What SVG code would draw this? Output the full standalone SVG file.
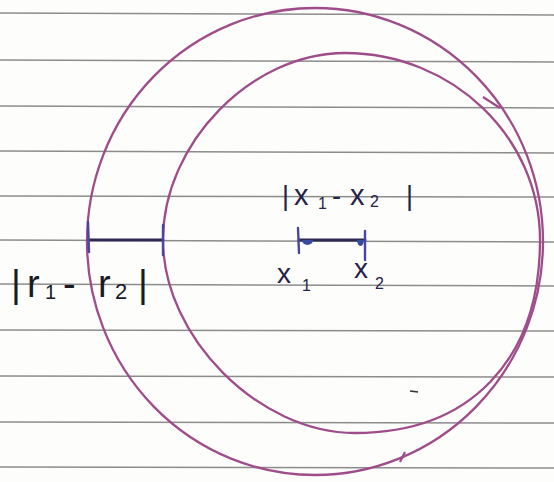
<svg xmlns="http://www.w3.org/2000/svg" width="554" height="482" viewBox="0 0 554 482">
<style>
.rule{stroke:#8c8c8c;stroke-width:1.5;fill:none}
.circ{stroke:#9e4c8a;stroke-width:2.3;fill:none}
.seg{stroke:#2e2a55;stroke-width:3;fill:none;stroke-linecap:round}
.tick{stroke:#4a45a0;stroke-width:2.4;fill:none;stroke-linecap:round}
.lbl{font-family:"Liberation Sans","DejaVu Sans",sans-serif;fill:#1a1a24}
.lbl2{font-family:"Liberation Sans","DejaVu Sans",sans-serif;fill:#252248}
</style>
<rect width="554" height="482" fill="#fdfdfb"/>
<g id="paper">
<line class="rule" x1="0" y1="13" x2="554" y2="15"/>
<line class="rule" x1="0" y1="60" x2="554" y2="62"/>
<line class="rule" x1="0" y1="106" x2="554" y2="108"/>
<line class="rule" x1="0" y1="151" x2="554" y2="153"/>
<line class="rule" x1="0" y1="196" x2="554" y2="197"/>
<line class="rule" x1="0" y1="240" x2="554" y2="242"/>
<line class="rule" x1="0" y1="284" x2="554" y2="286"/>
<line class="rule" x1="0" y1="330" x2="554" y2="331"/>
<line class="rule" x1="0" y1="376" x2="554" y2="377"/>
<line class="rule" x1="0" y1="422" x2="554" y2="423"/>
<line class="rule" x1="0" y1="467" x2="554" y2="468"/>
</g>
<g id="outer-circle">
<ellipse class="circ" cx="315" cy="241.5" rx="228" ry="233.5"/>
<path class="circ" d="M483 97 L500 108"/>
<path class="circ" d="M400 462 L405 452"/>
</g>
<g id="inner-circle">
<path class="circ" d="M163 240 C163 143 252 53 345 53 C452 53 540 137 540 240 C540 360 470 433 355 433 C259 433 163 337 163 240 Z"/>
</g>
<path d="M410 391 L418 392" stroke="#333" stroke-width="1.6"/>
<g id="connectors">
<g id="segment-r">
<line class="seg" x1="89" y1="240" x2="163" y2="240"/>
<line class="tick" x1="88" y1="222" x2="89" y2="252"/>
<line class="tick" x1="163" y1="225" x2="163" y2="255"/>
</g>
<g id="segment-x">
<line class="seg" x1="299" y1="240" x2="365" y2="240"/>
<line class="tick" x1="298" y1="228" x2="299" y2="253"/>
<line class="tick" x1="365" y1="231" x2="365" y2="260"/>
<path d="M302 240 a5.5 5 0 0 0 11 0 z" fill="#3a4aa0"/>
<path d="M357 240 a3.5 6 0 0 0 7 0 z" fill="#3a4aa0"/>
</g>
</g>
<g id="label-r">
<text class="lbl" y="297" font-size="38"><tspan x="11">|</tspan><tspan x="27">r</tspan><tspan x="45" font-size="20" y="299">1</tspan><tspan x="63" y="297">-</tspan><tspan x="98">r</tspan><tspan x="115" font-size="22" y="299">2</tspan><tspan x="138" y="297">|</tspan></text>
</g>
<g id="label-x-diff">
<text class="lbl2" y="205" font-size="27"><tspan x="282">|</tspan><tspan x="294" font-size="29">x</tspan><tspan x="318" font-size="16" y="209">1</tspan><tspan x="332" y="205">-</tspan><tspan x="350" font-size="29">x</tspan><tspan x="370" font-size="16" y="207">2</tspan><tspan x="406" y="205">|</tspan></text>
</g>
<g id="label-x1">
<text class="lbl2" x="277" y="283" font-size="28">x<tspan font-size="16" x="302" y="291">1</tspan></text>
</g>
<g id="label-x2">
<text class="lbl2" x="354" y="278" font-size="28">x<tspan font-size="16" x="375" y="289">2</tspan></text>
</g>
</svg>
